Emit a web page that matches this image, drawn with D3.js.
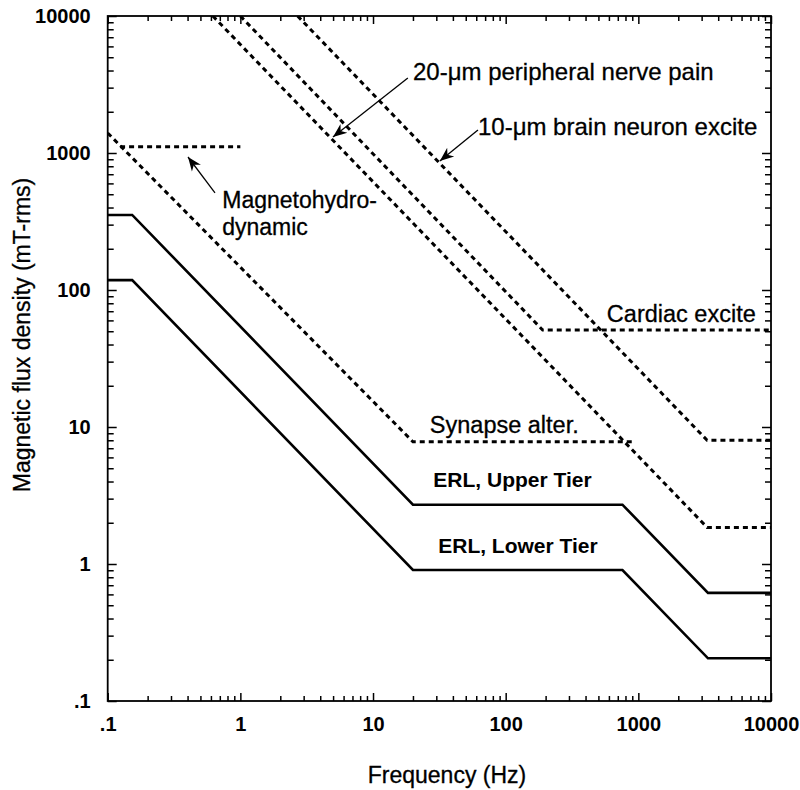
<!DOCTYPE html>
<html>
<head>
<meta charset="utf-8">
<script src="https://cdn.jsdelivr.net/npm/d3@7"></script>
<style>
  html, body { margin: 0; padding: 0; background: #fff; }
  svg { display: block; font-family: "Liberation Sans", Arial, Helvetica, sans-serif; }
</style>
</head>
<body>
<svg id="chart" width="800" height="790"></svg>
<script>
// ---------------- DATA ----------------
const xTickValues = [0.1, 1, 10, 100, 1000, 10000];
const xTickLabels = [".1", "1", "10", "100", "1000", "10000"];
const yTickValues = [0.1, 1, 10, 100, 1000, 10000];
const yTickLabels = [".1", "1", "10", "100", "1000", "10000"];

// Solid lines: [frequency Hz, flux density mT-rms]
const erlUpper = [[0.1, 353], [0.153, 353], [20, 2.71], [759, 2.71], [3350, 0.615], [10000, 0.615]];
const erlLower = [[0.1, 118], [0.153, 118], [20, 0.904], [759, 0.904], [3350, 0.205], [10000, 0.205]];

// Dotted threshold lines
const nervePain = [[0.62, 10000], [3300, 1.85], [10000, 1.85]];
const cardiac = [[1.0, 10000], [190, 51], [10000, 51]];
const brainNeuron = [[2.7, 10000], [3300, 8], [10000, 8]];
const synapse = [[0.1, 1400], [20, 7.8], [900, 7.8]];
const mhd = [[0.124, 1110], [1.0, 1110]];

// Text labels: [text, freq (left x), flux (baseline)]
const labelNames = ["20-\u03bcm peripheral nerve pain", "10-\u03bcm brain neuron excite", "Magnetohydro-", "dynamic", "Cardiac excite", "Synapse alter."];
const labelFreq = [20.0, 61.8, 0.73, 0.73, 579, 26.8];
const labelFlux = [3410, 1353, 397, 252, 58.4, 9.04];
const labelSize = [24, 24, 23, 23, 23.5, 23.5];
const erlNames = ["ERL, Upper Tier", "ERL, Lower Tier"];
const erlFreq = [28.5, 31.0];
const erlFlux = [3.65, 1.2];

// Arrows: [fromFreq, fromFlux, toFreq, toFlux]
const arrows = [
  [18.3, 3525, 4.99, 1309],
  [61.8, 1472, 31.9, 874],
  [0.644, 511, 0.403, 935]
];

// ---------------- CHART ----------------
const svg = d3.select("#chart");
const pL = 107.7, pR = 771, pT = 16, pB = 701;

const x = d3.scaleLog().domain([0.1, 10000]).range([pL, pR]);
const y = d3.scaleLog().domain([0.1, 10000]).range([pB, pT]);

function minors(lo, hi) {
  const out = [];
  for (let e = Math.round(Math.log10(lo)); e < Math.round(Math.log10(hi)); e++) {
    for (let k = 2; k <= 9; k++) out.push(k * Math.pow(10, e));
  }
  return out;
}
const xMinor = minors(0.1, 10000);
const yMinor = minors(0.1, 10000);

const fmtX = d => xTickLabels[xTickValues.findIndex(v => Math.abs(v - d) < d * 1e-6)];
const fmtY = d => yTickLabels[yTickValues.findIndex(v => Math.abs(v - d) < d * 1e-6)];

function styleAxis(g) {
  g.select(".domain").remove();
  g.selectAll(".tick line").attr("stroke", "#000").attr("stroke-width", 1.5);
}
function styleText(g) {
  g.selectAll("text").attr("font-size", 20).attr("font-weight", "bold").attr("fill", "#000")
    .attr("font-family", "Liberation Sans, Arial, sans-serif");
}

// bottom
svg.append("g").attr("transform", `translate(0,${pB})`)
  .call(d3.axisBottom(x).tickValues(xTickValues).tickSize(-8).tickPadding(16).tickFormat(fmtX))
  .call(styleAxis).call(styleText);
svg.append("g").attr("transform", `translate(0,${pB})`)
  .call(d3.axisBottom(x).tickValues(xMinor).tickSize(-5).tickFormat(""))
  .call(styleAxis);
// top
svg.append("g").attr("transform", `translate(0,${pT})`)
  .call(d3.axisTop(x).tickValues(xTickValues).tickSize(-8).tickFormat(""))
  .call(styleAxis);
svg.append("g").attr("transform", `translate(0,${pT})`)
  .call(d3.axisTop(x).tickValues(xMinor).tickSize(-5).tickFormat(""))
  .call(styleAxis);
// left
svg.append("g").attr("transform", `translate(${pL},0)`)
  .call(d3.axisLeft(y).tickValues(yTickValues).tickSize(-9).tickPadding(17).tickFormat(fmtY))
  .call(styleAxis).call(styleText);
svg.append("g").attr("transform", `translate(${pL},0)`)
  .call(d3.axisLeft(y).tickValues(yMinor).tickSize(-6).tickFormat(""))
  .call(styleAxis);
// right
svg.append("g").attr("transform", `translate(${pR},0)`)
  .call(d3.axisRight(y).tickValues(yTickValues).tickSize(-9).tickFormat(""))
  .call(styleAxis);
svg.append("g").attr("transform", `translate(${pR},0)`)
  .call(d3.axisRight(y).tickValues(yMinor).tickSize(-6).tickFormat(""))
  .call(styleAxis);

// frame
svg.append("rect").attr("x", pL).attr("y", pT).attr("width", pR - pL).attr("height", pB - pT)
  .attr("fill", "none").attr("stroke", "#000").attr("stroke-width", 1.8);

// clip
svg.append("clipPath").attr("id", "plotclip").append("rect")
  .attr("x", pL).attr("y", pT).attr("width", pR - pL).attr("height", pB - pT);

const line = d3.line().x(d => x(d[0])).y(d => y(d[1]));
const plot = svg.append("g").attr("clip-path", "url(#plotclip)");

[erlUpper, erlLower].forEach(s => {
  plot.append("path").datum(s).attr("d", line).attr("fill", "none")
    .attr("stroke", "#000").attr("stroke-width", 2.6).attr("stroke-linejoin", "miter");
});
[nervePain, cardiac, brainNeuron, synapse, mhd].forEach(s => {
  plot.append("path").datum(s).attr("d", line).attr("fill", "none")
    .attr("stroke", "#000").attr("stroke-width", 3).attr("stroke-dasharray", "5,4");
});

// arrow marker
svg.append("defs").append("marker").attr("id", "ah")
  .attr("viewBox", "0 0 10 10").attr("refX", 10).attr("refY", 5)
  .attr("markerWidth", 14).attr("markerHeight", 14).attr("markerUnits", "userSpaceOnUse")
  .attr("orient", "auto")
  .append("path").attr("d", "M0,1 L10,5 L0,9 L3,5 Z").attr("fill", "#000");

svg.append("g").selectAll("line").data(arrows).join("line")
  .attr("x1", d => x(d[0])).attr("y1", d => y(d[1]))
  .attr("x2", d => x(d[2])).attr("y2", d => y(d[3]))
  .attr("stroke", "#000").attr("stroke-width", 1.3).attr("marker-end", "url(#ah)");

// labels
svg.append("g").selectAll("text").data(labelNames).join("text")
  .attr("x", (d, i) => x(labelFreq[i])).attr("y", (d, i) => y(labelFlux[i]))
  .attr("font-size", (d, i) => labelSize[i]).attr("fill", "#000").attr("stroke", "#000").attr("stroke-width", 0.3)
  .text(d => d);

svg.append("g").selectAll("text").data(erlNames).join("text")
  .attr("x", (d, i) => x(erlFreq[i])).attr("y", (d, i) => y(erlFlux[i]))
  .attr("font-size", 21).attr("font-weight", "bold").attr("fill", "#000")
  .text(d => d);

// axis titles
svg.append("text").attr("x", 447).attr("y", 783).attr("text-anchor", "middle")
  .attr("font-size", 23).attr("fill", "#000").attr("stroke", "#000").attr("stroke-width", 0.3)
  .text("Frequency (Hz)");
svg.append("text").attr("transform", "translate(30,335) rotate(-90)").attr("text-anchor", "middle")
  .attr("font-size", 23).attr("fill", "#000").attr("stroke", "#000").attr("stroke-width", 0.3)
  .text("Magnetic flux density (mT-rms)");
</script>
</body>
</html>
